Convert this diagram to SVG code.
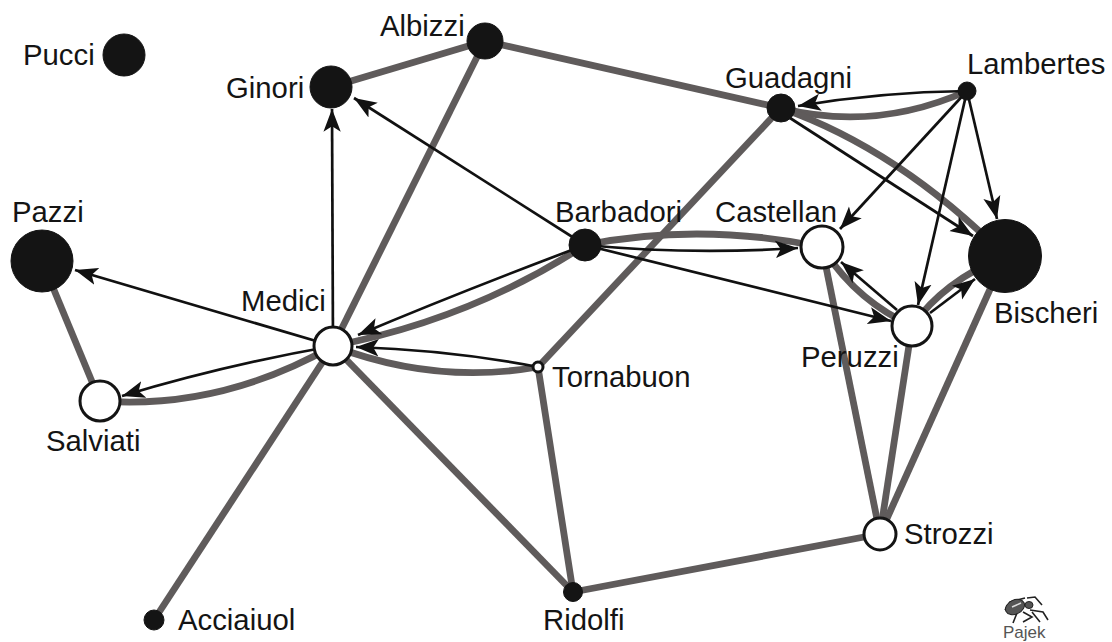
<svg xmlns="http://www.w3.org/2000/svg" width="1112" height="642" viewBox="0 0 1112 642">
<style>
.e{fill:none;stroke:#5f5b5b;stroke-width:6.8}
.a{fill:none;stroke:#111;stroke-width:2.7;marker-end:url(#arr)}
.b{fill:#141414;stroke:#141414;stroke-width:1}
.w{fill:#fff;stroke:#141414;stroke-width:3}
text{font-family:"Liberation Sans",Arial,sans-serif;font-size:29.3px;fill:#141414}
</style>
<defs>
<marker id="arr" markerUnits="userSpaceOnUse" markerWidth="24" markerHeight="19" refX="17" refY="7" orient="auto" viewBox="0 0 18 14">
<path d="M0,0.5L17,7L0,13.5L4,7Z" fill="#111"/>
</marker>
</defs>
<rect width="1112" height="642" fill="#fff"/>
<g id="connectors">
<path class="e" d="M331,87L485,41"/>
<path class="e" d="M485,41L781,108"/>
<path class="e" d="M485,41L333,346"/>
<path class="e" d="M781,108L538,367"/>
<path class="e" d="M781,108Q875,132 967,91"/>
<path class="e" d="M781,108Q900,150 1005,256"/>
<path class="e" d="M585,245Q700,222 822,247"/>
<path class="e" d="M585,245Q470,320 333,346"/>
<path class="e" d="M42,261L100,401"/>
<path class="e" d="M333,346Q220,410 100,401"/>
<path class="e" d="M333,346Q435,385 538,367"/>
<path class="e" d="M333,346L154,620"/>
<path class="e" d="M333,346L573,592"/>
<path class="e" d="M538,367L573,592"/>
<path class="e" d="M573,592L880,534"/>
<path class="e" d="M822,247L880,534"/>
<path class="e" d="M912,326L880,534"/>
<path class="e" d="M1005,256L880,534"/>
<path class="e" d="M822,247Q855,300 912,326"/>
<path class="e" d="M912,326Q945,280 1005,256"/>
<path class="a" d="M967,91Q880,92 798,106"/>
<path class="a" d="M967,91L840,229"/>
<path class="a" d="M967,91L918,305"/>
<path class="a" d="M967,91L997,219"/>
<path class="a" d="M790,118L973,236"/>
<path class="a" d="M585,245Q690,255 798,248"/>
<path class="a" d="M585,245L891,321"/>
<path class="a" d="M585,245L354,98"/>
<path class="a" d="M585,245Q460,292 358,335"/>
<path class="a" d="M333,346L332,109"/>
<path class="a" d="M333,346L75,270"/>
<path class="a" d="M333,346Q225,365 122,396"/>
<path class="a" d="M538,367Q450,350 356,347"/>
<path class="a" d="M897,310L841,262"/>
<path class="a" d="M930,313L975,279"/>
</g>
<g id="pucci"><circle class="b" cx="124" cy="55" r="21"/><text x="23" y="65">Pucci</text></g>
<g id="albizzi"><circle class="b" cx="485" cy="41" r="18"/><text x="380" y="36">Albizzi</text></g>
<g id="ginori"><circle class="b" cx="331" cy="87" r="21"/><text x="226" y="98">Ginori</text></g>
<g id="guadagni"><circle class="b" cx="781" cy="108" r="14"/><text x="725" y="88">Guadagni</text></g>
<g id="lambertes"><circle class="b" cx="967" cy="91" r="9"/><text x="967" y="74">Lambertes</text></g>
<g id="pazzi"><circle class="b" cx="42" cy="261" r="31"/><text x="12" y="222">Pazzi</text></g>
<g id="barbadori"><circle class="b" cx="585" cy="245" r="16"/><text x="555" y="222">Barbadori</text></g>
<g id="castellan"><circle class="w" cx="822" cy="247" r="21"/><text x="715" y="222">Castellan</text></g>
<g id="bischeri"><circle class="b" cx="1005" cy="256" r="36.5"/><text x="994" y="323">Bischeri</text></g>
<g id="peruzzi"><circle class="w" cx="912" cy="326" r="20"/><text x="801" y="367">Peruzzi</text></g>
<g id="medici"><circle class="w" cx="333" cy="346" r="19"/><text x="241" y="311">Medici</text></g>
<g id="tornabuon"><circle class="w" cx="538" cy="367" r="5"/><text x="552" y="387">Tornabuon</text></g>
<g id="salviati"><circle class="w" cx="100" cy="401" r="20"/><text x="46" y="451">Salviati</text></g>
<g id="strozzi"><circle class="w" cx="880" cy="534" r="16"/><text x="904" y="544">Strozzi</text></g>
<g id="ridolfi"><circle class="b" cx="573" cy="592" r="9.5"/><text x="543" y="630">Ridolfi</text></g>
<g id="acciaiuol"><circle class="b" cx="154" cy="620" r="10"/><text x="178" y="630">Acciaiuol</text></g>
<g id="pajek">
<path d="M1005,610L1010,602L1025,598M1027,598L1035,597L1042,605M1030,610L1043,612L1048,620M1032,612L1040,622M1023,612L1032,617L1023,622M1017,613L1013,623" fill="none" stroke="#222" stroke-width="1.6"/>
<ellipse cx="1015" cy="607" rx="10" ry="7" fill="#555" stroke="#222" transform="rotate(-25 1015 607)"/>
<ellipse cx="1029" cy="605" rx="4" ry="3.5" fill="#555" stroke="#222"/>
<path d="M1012,607L1021,603" stroke="#ddd" stroke-width="1.5"/>
<text x="1003" y="638" style="font-size:17px;fill:#555">Pajek</text>
</g>
</svg>
